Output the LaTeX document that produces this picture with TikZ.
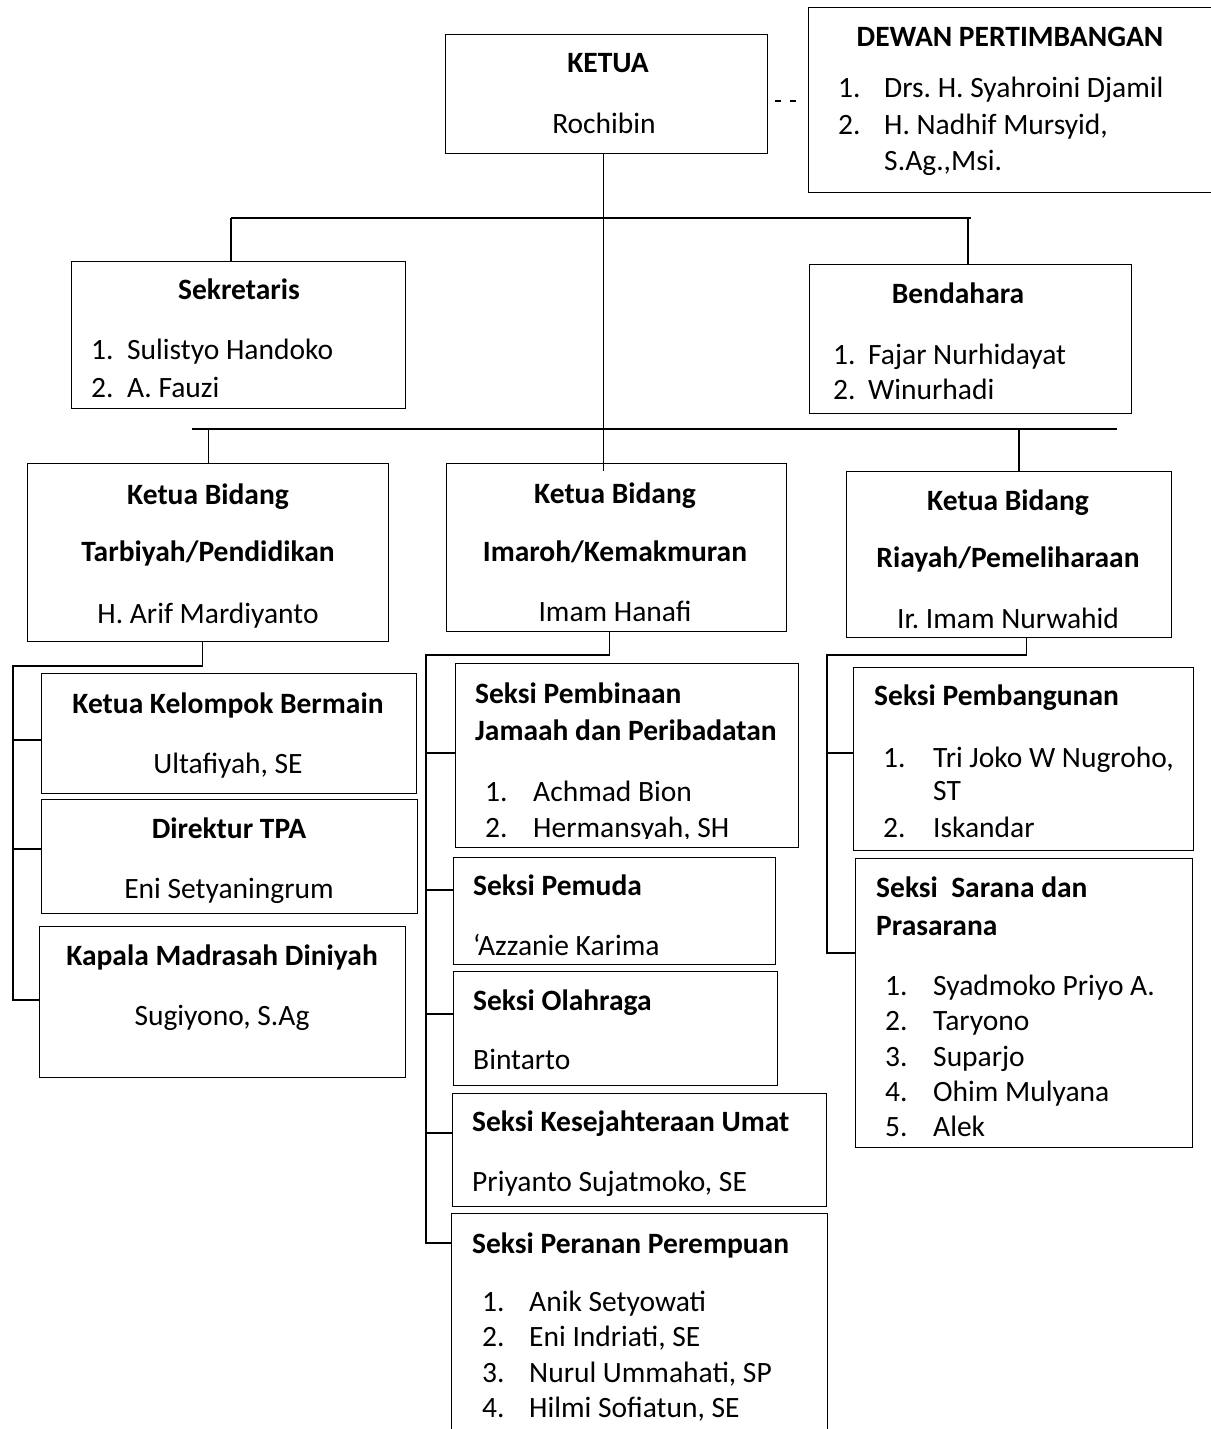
\documentclass[tikz,border=0pt]{standalone}
\usepackage{fontspec}
\setmainfont{Carlito}
\frenchspacing

\tikzset{
  box/.style={draw, line width=1.4pt, anchor=north west, inner sep=0pt},
  txt/.style={anchor=base west, inner sep=0pt, font=\fontsize{29.5}{35}\selectfont},
  ctxt/.style={txt, anchor=base},
  ttl/.style={txt, font=\fontsize{29.5}{35}\selectfont\bfseries},
  cttl/.style={ttl, anchor=base},
  link/.style={line width=1.4pt},
  bar/.style={line width=2.4pt}
}

\begin{document}
\begin{tikzpicture}[x=1pt, y=-1pt]
  \useasboundingbox (0,0) rectangle (1210,1429);

  % boxes
  \node[box, minimum width=322pt, minimum height=119pt] (ketua) at (445,34) {};
  \node[box, minimum width=410pt, minimum height=185pt] (dewan) at (808,7) {};
  \node[box, minimum width=334pt, minimum height=147pt] (sekretaris) at (71,261) {};
  \node[box, minimum width=322pt, minimum height=149pt] (bendahara) at (809,264) {};
  \node[box, minimum width=361pt, minimum height=178pt] (tarbiyah) at (27,463) {};
  \node[box, minimum width=340pt, minimum height=168pt] (imaroh) at (446,463) {};
  \node[box, minimum width=325pt, minimum height=166pt] (riayah) at (846,471) {};
  \node[box, minimum width=375pt, minimum height=120pt] (kelompok) at (41,673) {};
  \node[box, minimum width=376pt, minimum height=114pt] (direktur) at (41,799) {};
  \node[box, minimum width=366pt, minimum height=151pt] (kapala) at (39,926) {};
  \node[box, minimum width=343pt, minimum height=184pt] (pembinaan) at (455,663) {};
  \node[box, minimum width=322pt, minimum height=107pt] (pemuda) at (453,857) {};
  \node[box, minimum width=324pt, minimum height=114pt] (olahraga) at (453,971) {};
  \node[box, minimum width=374pt, minimum height=113pt] (kesejahteraan) at (452,1093) {};
  \node[box, minimum width=376pt, minimum height=240pt] (peranan) at (451,1213) {};
  \node[box, minimum width=340pt, minimum height=183pt] (pembangunan) at (853,667) {};
  \node[box, minimum width=337pt, minimum height=289pt] (sarana) at (855,858) {};

  % ketua and dewan
  \node[cttl] (ketua-t) at (608,73) {KETUA};
  \node[ctxt] (ketua-n) at (604,133) {Rochibin};
  \node[cttl] (dewan-t) at (1010,47) {DEWAN PERTIMBANGAN};
  \node[txt] (dewan-n1) at (838,97) {1.};
  \node[txt] (dewan-a1) at (884,97) {Drs. H. Syahroini Djamil};
  \node[txt] (dewan-n2) at (838,134) {2.};
  \node[txt] (dewan-a2) at (884,134) {H. Nadhif Mursyid,};
  \node[txt] (dewan-a3) at (884,170) {S.Ag.,Msi.};

  % sekretaris and bendahara
  \node[cttl] (sekretaris-t) at (239,299) {Sekretaris};
  \node[txt] (sekretaris-n1) at (91,359) {1.};
  \node[txt] (sekretaris-a1) at (127,359) {Sulistyo Handoko};
  \node[txt] (sekretaris-n2) at (91,397) {2.};
  \node[txt] (sekretaris-a2) at (127,397) {A. Fauzi};
  \node[cttl] (bendahara-t) at (958,303) {Bendahara};
  \node[txt] (bendahara-n1) at (833,364) {1.};
  \node[txt] (bendahara-a1) at (868,364) {Fajar Nurhidayat};
  \node[txt] (bendahara-n2) at (833,399) {2.};
  \node[txt] (bendahara-a2) at (868,399) {Winurhadi};

  % ketua bidang
  \node[cttl] (tarbiyah-t1) at (208,504) {Ketua Bidang};
  \node[cttl] (tarbiyah-t2) at (208,561) {Tarbiyah/Pendidikan};
  \node[ctxt] (tarbiyah-n) at (208,623) {H. Arif Mardiyanto};
  \node[cttl] (imaroh-t1) at (615,503) {Ketua Bidang};
  \node[cttl] (imaroh-t2) at (615,561) {Imaroh/Kemakmuran};
  \node[ctxt] (imaroh-n) at (615,621) {Imam Hanafi};
  \node[cttl] (riayah-t1) at (1008,510) {Ketua Bidang};
  \node[cttl] (riayah-t2) at (1008,567) {Riayah/Pemeliharaan};
  \node[ctxt] (riayah-n) at (1008,628) {Ir. Imam Nurwahid};

  % tarbiyah units
  \node[cttl] (kelompok-t) at (228,713) {Ketua Kelompok Bermain};
  \node[ctxt] (kelompok-n) at (228,773) {Ultafiyah, SE};
  \node[cttl] (direktur-t) at (229,838) {Direktur TPA};
  \node[ctxt] (direktur-n) at (229,898) {Eni Setyaningrum};
  \node[cttl] (kapala-t) at (222,965) {Kapala Madrasah Diniyah};
  \node[ctxt] (kapala-n) at (222,1025) {Sugiyono, S.Ag};

  % imaroh units
  \node[ttl] (pembinaan-t1) at (475,703) {Seksi Pembinaan};
  \node[ttl] (pembinaan-t2) at (475,740) {Jamaah dan Peribadatan};
  \node[txt] (pembinaan-n1) at (485,801) {1.};
  \node[txt] (pembinaan-a1) at (533,801) {Achmad Bion};
  \begin{scope}
    \clip (455,805) rectangle (798,838);
    \node[txt] (pembinaan-n2) at (485,837) {2.};
    \node[txt] (pembinaan-a2) at (533,837) {Hermansyah, SH};
  \end{scope}
  \node[ttl] (pemuda-t) at (473,895) {Seksi Pemuda};
  \node[txt] (pemuda-n) at (473,955) {‘Azzanie Karima};
  \node[ttl] (olahraga-t) at (473,1010) {Seksi Olahraga};
  \node[txt] (olahraga-n) at (473,1069) {Bintarto};
  \node[ttl] (kesejahteraan-t) at (472,1131) {Seksi Kesejahteraan Umat};
  \node[txt] (kesejahteraan-n) at (472,1191) {Priyanto Sujatmoko, SE};
  \node[ttl] (peranan-t) at (472,1253) {Seksi Peranan Perempuan};
  \node[txt] (peranan-n1) at (482,1311) {1.};
  \node[txt] (peranan-a1) at (529,1311) {Anik Setyowati};
  \node[txt] (peranan-n2) at (482,1346) {2.};
  \node[txt] (peranan-a2) at (529,1346) {Eni Indriati, SE};
  \node[txt] (peranan-n3) at (482,1382) {3.};
  \node[txt] (peranan-a3) at (529,1382) {Nurul Ummahati, SP};
  \node[txt] (peranan-n4) at (482,1417) {4.};
  \node[txt] (peranan-a4) at (529,1417) {Hilmi Sofiatun, SE};

  % riayah units
  \node[ttl] (pembangunan-t) at (874,705) {Seksi Pembangunan};
  \node[txt] (pembangunan-n1) at (883,767) {1.};
  \node[txt] (pembangunan-a1) at (933,767) {Tri Joko W Nugroho,};
  \node[txt] (pembangunan-a1b) at (933,800) {ST};
  \node[txt] (pembangunan-n2) at (883,837) {2.};
  \node[txt] (pembangunan-a2) at (933,837) {Iskandar};
  \node[ttl] (sarana-t1) at (876,897) {Seksi\ \ Sarana dan};
  \node[ttl] (sarana-t2) at (876,935) {Prasarana};
  \node[txt] (sarana-n1) at (885,995) {1.};
  \node[txt] (sarana-a1) at (933,995) {Syadmoko Priyo A.};
  \node[txt] (sarana-n2) at (885,1030) {2.};
  \node[txt] (sarana-a2) at (933,1030) {Taryono};
  \node[txt] (sarana-n3) at (885,1066) {3.};
  \node[txt] (sarana-a3) at (933,1066) {Suparjo};
  \node[txt] (sarana-n4) at (885,1101) {4.};
  \node[txt] (sarana-a4) at (933,1101) {Ohim Mulyana};
  \node[txt] (sarana-n5) at (885,1136) {5.};
  \node[txt] (sarana-a5) at (933,1136) {Alek};

  % connectors
  \coordinate (b1w) at (231,218);
  \coordinate (b1e) at (971,218);
  \coordinate (b2w) at (192,429);
  \coordinate (b2e) at (1117,429);
  \coordinate (b2r) at (1019,429);
  \draw[bar] (b1w) -- (b1e);
  \draw[bar] (b2w) -- (b2e);
  \draw[link] ([xshift=-3pt]ketua.south) -- ([xshift=-3pt, yshift=-8pt]ketua.south |- imaroh.north);
  \draw[link, dash pattern=on 6pt off 9pt on 6pt off 30pt, dash phase=44pt]
    ([yshift=-67pt]ketua.north east) -- ([yshift=-67pt]ketua.north east -| dewan.west);
  \draw[link] (b1w) -- (b1w |- sekretaris.north);
  \draw[link] ([xshift=-3pt]b1e) -- ([xshift=-3pt]b1e |- bendahara.north);
  \draw[link] (tarbiyah.north |- b2w) -- (tarbiyah.north);
  \draw[link] (b2r) -- (b2r |- riayah.north);

  \coordinate (tsp) at (13,666);
  \draw[link] ([xshift=-6pt]tarbiyah.south) |- (tsp) |- ([yshift=-74pt]kapala.north west);
  \foreach \n/\off in {kelompok/67, direktur/50}
    \draw[link] ([yshift=-\off pt]\n.north west) -- ([yshift=-\off pt]\n.north west -| tsp);

  \coordinate (isp) at (426,655);
  \draw[link] ([xshift=-7pt]imaroh.south) |- (isp) |- ([yshift=-30pt]peranan.north west);
  \foreach \n/\off in {pembinaan/90, pemuda/33, olahraga/43, kesejahteraan/40}
    \draw[link] ([yshift=-\off pt]\n.north west) -- ([yshift=-\off pt]\n.north west -| isp);

  \coordinate (rsp) at (827,655);
  \draw[link] ([xshift=17pt]riayah.south) |- (rsp) |- ([yshift=-95pt]sarana.north west);
  \draw[link] ([yshift=-86pt]pembangunan.north west) -- ([yshift=-86pt]pembangunan.north west -| rsp);
\end{tikzpicture}
\end{document}
